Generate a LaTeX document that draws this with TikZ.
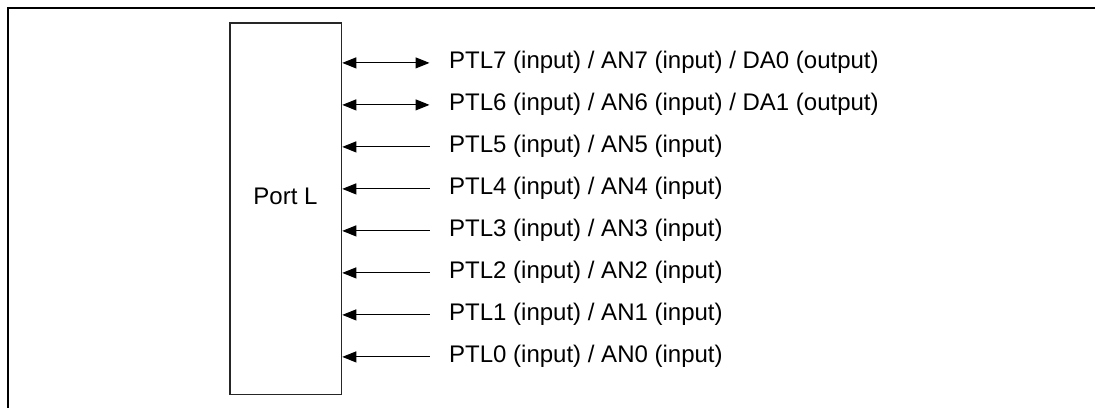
\documentclass[tikz,border=0pt]{standalone}
\usepackage{fontspec}
\setmainfont{Liberation Sans}
\usetikzlibrary{arrows.meta}
\begin{document}
\begin{tikzpicture}[x=1pt,y=-1pt,
  frameline/.style={line width=2.2pt},
  portbox/.style={draw=black!85,line width=1.2pt,inner sep=0pt,minimum width=111.7pt,minimum height=371.5pt},
  sig/.style={line width=1pt},
  lbl/.style={anchor=base west,inner sep=0pt,font=\fontsize{24}{28}\selectfont}]
\useasboundingbox (0,0) rectangle (1095,408);
\coordinate (fa) at (1095,7.6);
\coordinate (fb) at (8.3,7.6);
\coordinate (fc) at (8.3,408);
\draw[frameline] (fa) -- (fb) -- (fc);
\node[portbox] (box) at (285.85,208.75) {};
\node[inner sep=0pt,anchor=base,font=\fontsize{24}{28}\selectfont] (port) at (285.5,204.3) {Port L};
\foreach \i/\t/\bi in {0/{PTL7 (input) / AN7 (input) / DA0 (output)}/1,
                        1/{PTL6 (input) / AN6 (input) / DA1 (output)}/1,
                        2/{PTL5 (input) / AN5 (input)}/0,
                        3/{PTL4 (input) / AN4 (input)}/0,
                        4/{PTL3 (input) / AN3 (input)}/0,
                        5/{PTL2 (input) / AN2 (input)}/0,
                        6/{PTL1 (input) / AN1 (input)}/0,
                        7/{PTL0 (input) / AN0 (input)}/0}{
  \pgfmathsetmacro{\yy}{62.9+42*\i}
  \coordinate (s\i) at (box.east |- 0,\yy);
  \coordinate (e\i) at (429.5,\yy);
  \node[lbl] (t\i) at (449,\yy+5.8) {\t};
  \ifnum\bi=1
    \draw[sig,{Triangle[length=14pt,width=11pt]}-{Triangle[length=14pt,width=11pt]}] (s\i) -- (e\i);
  \else
    \draw[sig,{Triangle[length=14pt,width=11pt]}-] (s\i) -- (e\i);
  \fi
}
\end{tikzpicture}
\end{document}
